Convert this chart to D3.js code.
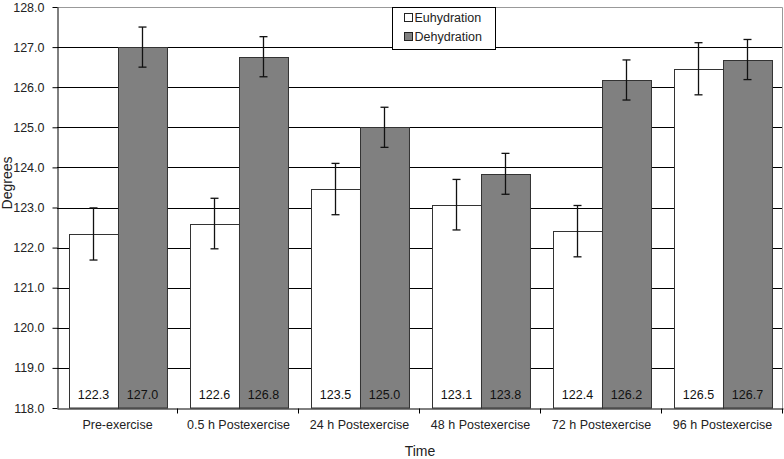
<!DOCTYPE html>
<html>
<head>
<meta charset="utf-8">
<script src="https://cdn.jsdelivr.net/npm/d3@7"></script>
<style>
  body { margin: 0; background: #fff; }
  svg { font-family: "Liberation Sans", Arial, sans-serif; }
</style>
</head>
<body>
<div class="container"></div>
<script>
// data
const categories = ["Pre-exercise", "0.5 h Postexercise", "24 h Postexercise",
                    "48 h Postexercise", "72 h Postexercise", "96 h Postexercise"];
const series = ["Euhydration", "Dehydration"];
const euhydration = [122.34, 122.6, 123.46, 123.07, 122.41, 126.46];
const dehydration = [127.0, 126.76, 125.0, 123.84, 126.18, 126.69];
const euhydrationErr = [0.65, 0.63, 0.64, 0.63, 0.64, 0.65];
const dehydrationErr = [0.5, 0.5, 0.5, 0.51, 0.5, 0.5];
const yTicks = [118, 119, 120, 121, 122, 123, 124, 125, 126, 127, 128];
const colors = ["#ffffff", "#808080"];

const width = 784, height = 459;
const margin = { top: 7, right: 1, bottom: 51, left: 57 };

const svg = d3.select(".container")
  .append("svg")
  .attr("width", width)
  .attr("height", height);

const x0 = d3.scaleBand()
  .domain(categories)
  .range([margin.left, width - margin.right])
  .paddingInner(0)
  .paddingOuter(0);

const x1 = d3.scaleBand()
  .domain(series)
  .range([0, x0.bandwidth()])
  .paddingInner(0)
  .paddingOuter(0.235);

const y = d3.scaleLinear()
  .domain([118, 128])
  .range([height - margin.bottom, margin.top]);

const fmt = d3.format(".1f");

// gridlines
svg.append("g")
  .selectAll("line")
  .data(yTicks.slice(1, -1))
  .enter()
  .append("line")
  .attr("x1", margin.left)
  .attr("x2", width - margin.right)
  .attr("y1", d => Math.round(y(d)) + 0.5)
  .attr("y2", d => Math.round(y(d)) + 0.5)
  .attr("stroke", "#000")
  .attr("stroke-width", 1);

// plot area border (top/right)
svg.append("path")
  .attr("d", `M${margin.left},${Math.round(y(128)) + 0.5} H${width - margin.right - 0.5} V${y(118)}`)
  .attr("fill", "none")
  .attr("stroke", "#999")
  .attr("stroke-width", 1);

const rows = categories.map((c, i) => ({
  cat: c,
  values: [
    { s: series[0], v: euhydration[i], e: euhydrationErr[i] },
    { s: series[1], v: dehydration[i], e: dehydrationErr[i] }
  ]
}));

const groups = svg.append("g")
  .selectAll("g")
  .data(rows)
  .enter()
  .append("g")
  .attr("transform", d => "translate(" + x0(d.cat) + ",0)");

groups.selectAll("rect")
  .data(d => d.values)
  .enter()
  .append("rect")
  .attr("x", d => Math.round(x1(d.s)) + 0.5)
  .attr("y", d => Math.round(y(d.v)) + 0.5)
  .attr("width", x1.bandwidth())
  .attr("height", d => y(118) - Math.round(y(d.v)) - 0.5)
  .attr("fill", (d, i) => colors[i])
  .attr("stroke", "#333")
  .attr("stroke-width", 1);

// value labels inside bars
groups.selectAll("text.val")
  .data(d => d.values)
  .enter()
  .append("text")
  .attr("class", "val")
  .attr("x", d => x1(d.s) + x1.bandwidth() / 2 + 0.5)
  .attr("y", y(118) - 9)
  .attr("text-anchor", "middle")
  .attr("font-size", "12.5px")
  .attr("fill", "#111")
  .text(d => fmt(d.v));

// error bars
const err = groups.selectAll("g.err")
  .data(d => d.values)
  .enter()
  .append("g")
  .attr("class", "err")
  .attr("stroke", "#111")
  .attr("stroke-width", 1.3);

err.append("line")
  .attr("x1", d => x1(d.s) + x1.bandwidth() / 2 + 0.5)
  .attr("x2", d => x1(d.s) + x1.bandwidth() / 2 + 0.5)
  .attr("y1", d => y(d.v + d.e))
  .attr("y2", d => y(d.v - d.e));

[1, -1].forEach(sign => {
  err.append("line")
    .attr("x1", d => x1(d.s) + x1.bandwidth() / 2 - 3.5)
    .attr("x2", d => x1(d.s) + x1.bandwidth() / 2 + 4.5)
    .attr("y1", d => y(d.v + sign * d.e))
    .attr("y2", d => y(d.v + sign * d.e));
});

// y axis
const yAxis = svg.append("g")
  .attr("transform", "translate(" + (margin.left + 0.5) + ",0)")
  .call(d3.axisLeft(y).tickValues(yTicks).tickFormat(fmt).tickSize(5).tickSizeOuter(0));
yAxis.select(".domain").attr("stroke", "#000");
yAxis.selectAll(".tick line").attr("stroke", "#000");
yAxis.selectAll(".tick text")
  .attr("x", -13)
  .attr("font-size", "12.5px")
  .attr("font-family", "Liberation Sans, Arial, sans-serif")
  .attr("fill", "#222");

// x axis: labels at centres, ticks at boundaries
const xAxis = svg.append("g")
  .attr("transform", "translate(0," + (y(118) + 0.5) + ")")
  .call(d3.axisBottom(x0).tickSize(0).tickSizeOuter(0).tickPadding(12));
xAxis.select(".domain").attr("stroke", "#000");
xAxis.selectAll(".tick text")
  .attr("font-size", "12.5px")
  .attr("font-family", "Liberation Sans, Arial, sans-serif")
  .attr("fill", "#222");

xAxis.selectAll("line.bound")
  .data(categories)
  .enter()
  .append("line")
  .attr("class", "bound")
  .attr("x1", d => Math.round(x0(d) + x0.bandwidth()) - 0.5)
  .attr("x2", d => Math.round(x0(d) + x0.bandwidth()) - 0.5)
  .attr("y1", 0)
  .attr("y2", 5)
  .attr("stroke", "#000");

// axis titles
svg.append("text")
  .attr("x", (margin.left + width - margin.right) / 2)
  .attr("y", 456)
  .attr("text-anchor", "middle")
  .attr("font-size", "14px")
  .attr("fill", "#222")
  .text("Time");

svg.append("text")
  .attr("transform", "translate(12,183) rotate(-90)")
  .attr("text-anchor", "middle")
  .attr("font-size", "14px")
  .attr("fill", "#222")
  .text("Degrees");

// legend
const legend = svg.append("g").attr("transform", "translate(392.5,7.5)");
legend.append("rect")
  .attr("width", 103)
  .attr("height", 42)
  .attr("fill", "#fff")
  .attr("stroke", "#000");
const li = legend.selectAll("g.item")
  .data(series)
  .enter()
  .append("g")
  .attr("transform", (d, i) => "translate(12," + (6 + i * 19) + ")");
li.append("rect")
  .attr("width", 8)
  .attr("height", 8)
  .attr("fill", (d, i) => colors[i])
  .attr("stroke", "#222");
li.append("text")
  .attr("x", 10)
  .attr("y", 8.5)
  .attr("font-size", "12.5px")
  .attr("fill", "#222")
  .text(d => d);
</script>
</body>
</html>
